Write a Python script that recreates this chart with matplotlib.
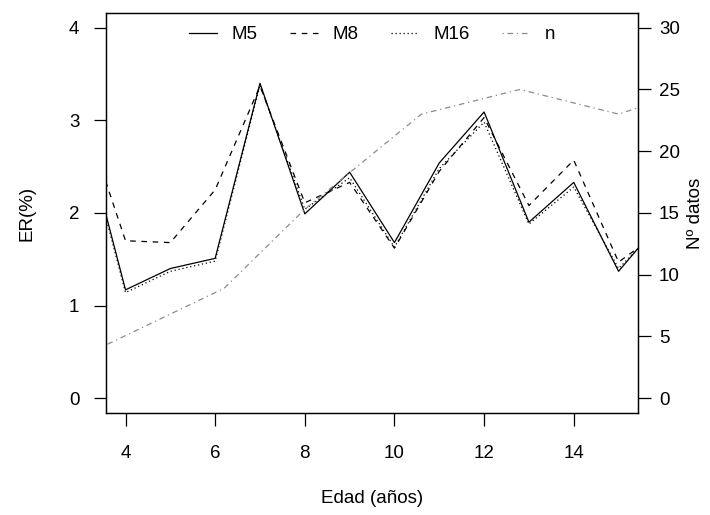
import matplotlib
matplotlib.use('Agg')
import matplotlib.pyplot as plt

plt.rcParams['font.family'] = ['Liberation Sans', 'DejaVu Sans']
plt.rcParams['font.size'] = 13.5

# Data
edad = [3, 4, 5, 6, 7, 8, 9, 10, 11, 12, 13, 14, 15, 16]
m5 = [3.03, 1.17, 1.40, 1.51, 3.40, 1.99, 2.44, 1.68, 2.54, 3.09, 1.90, 2.33, 1.37, 1.94]
m8 = [3.15, 1.70, 1.68, 2.25, 3.37, 2.11, 2.33, 1.62, 2.45, 3.03, 2.08, 2.57, 1.47, 1.82]
m16 = [3.00, 1.14, 1.37, 1.48, 3.38, 2.04, 2.38, 1.63, 2.48, 2.98, 1.88, 2.28, 1.40, 1.90]
n_edad = [3.5, 6.2, 8.0, 10.6, 12.8, 15.0, 16.0]
n_datos = [4.2, 8.9, 15.3, 23.0, 25.0, 23.0, 24.2]

fig = plt.figure(figsize=(7.1, 5.15), dpi=100)
ax1 = fig.add_axes([0.149, 0.198, 0.750, 0.777])
ax2 = ax1.twinx()

l1, = ax1.plot(edad, m5, color='black', lw=0.9, label='M5')
l2, = ax1.plot(edad, m8, color='black', lw=0.9, dashes=(4.5, 4.5), label='M8')
l3, = ax1.plot(edad, m16, color='black', lw=0.9, dashes=(1, 2.2), label='M16')
l4, = ax2.plot(n_edad, n_datos, color='#8c8c8c', lw=0.9, dashes=(1, 3, 4.5, 3), label='n')

ax1.set_xlim(3.56, 15.44)
ax1.set_ylim(-0.16, 4.16)
ax2.set_ylim(-1.2, 31.2)
ax1.set_xticks([4, 6, 8, 10, 12, 14])
ax1.set_yticks([0, 1, 2, 3, 4])
ax2.set_yticks([0, 5, 10, 15, 20, 25, 30])

ax1.tick_params(axis='x', direction='out', length=9, width=0.9, pad=14)
ax1.tick_params(axis='y', direction='out', length=9, width=0.9, pad=10)
ax2.tick_params(axis='y', direction='out', length=9, width=0.9, pad=6)
for ax in (ax1, ax2):
    for s in ax.spines.values():
        s.set_linewidth(0.9)

ax1.set_xlabel('Edad (años)', labelpad=20)
ax1.set_ylabel('ER(%)', labelpad=24)
ax2.set_ylabel('Nº datos', labelpad=5)

ax1.legend(handles=[l1, l2, l3, l4], loc='upper center', bbox_to_anchor=(0.5, 1.0),
           ncol=4, frameon=False, handlelength=1.5, handletextpad=0.8,
           columnspacing=1.7, borderaxespad=0.3)

fig.savefig('out.png', dpi=100)
